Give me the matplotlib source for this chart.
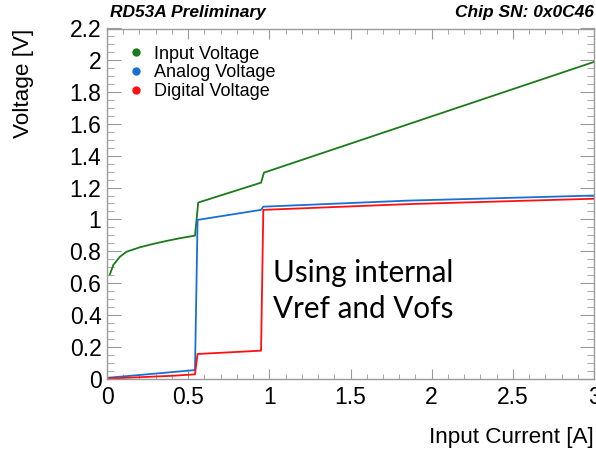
import matplotlib
matplotlib.use("Agg")
import matplotlib.pyplot as plt
from matplotlib.lines import Line2D
from matplotlib.ticker import MultipleLocator, FuncFormatter

# Supply voltages versus input current (shunt-LDO powering scan)
input_current = [0.018, 0.039, 0.080, 0.121, 0.203, 0.285, 0.368, 0.450,
                 0.542, 0.562, 0.949, 0.967, 3.0]
input_voltage = [0.655, 0.714, 0.766, 0.797, 0.825, 0.846, 0.865, 0.882,
                 0.898, 1.106, 1.231, 1.294, 1.99]

analog_current = [0.01, 0.2, 0.4, 0.542, 0.558, 0.949, 0.963, 1.85, 3.0]
analog_voltage = [0.005, 0.022, 0.040, 0.053, 0.997, 1.060, 1.080, 1.118, 1.150]

digital_current = [0.01, 0.2, 0.4, 0.542, 0.558, 0.949, 0.963, 1.85, 3.0]
digital_voltage = [0.0, 0.008, 0.017, 0.026, 0.154, 0.175, 1.060, 1.096, 1.130]

series_labels = ["Input Voltage", "Analog Voltage", "Digital Voltage"]
series_colors = ["#1b7a1b", "#1a6fd4", "#ff1010"]

plt.rcParams["font.family"] = ["Liberation Sans", "DejaVu Sans"]

fig = plt.figure(figsize=(5.96, 4.55), dpi=100)
ax = fig.add_axes([107 / 596, 1 - 378.5 / 455, 487 / 596, 350 / 455])

ax.plot(input_current, input_voltage, color=series_colors[0], lw=1.3)
ax.plot(analog_current, analog_voltage, color=series_colors[1], lw=1.3)
ax.plot(digital_current, digital_voltage, color=series_colors[2], lw=1.3)

ax.set_xlim(0, 3)
ax.set_ylim(0, 2.2)

fmt = FuncFormatter(lambda v, p: f"{v:g}")
ax.xaxis.set_major_locator(MultipleLocator(0.5))
ax.xaxis.set_minor_locator(MultipleLocator(0.1))
ax.yaxis.set_major_locator(MultipleLocator(0.2))
ax.yaxis.set_minor_locator(MultipleLocator(0.05))
ax.xaxis.set_major_formatter(fmt)
ax.yaxis.set_major_formatter(fmt)

frame_col = "#9a9a9a"
for s in ax.spines.values():
    s.set_color(frame_col)
    s.set_linewidth(1.0)

ax.tick_params(axis="both", which="both", direction="in", color=frame_col,
               top=True, right=True, labelsize=16.5, labelcolor="black")
ax.tick_params(axis="x", which="major", length=7, pad=5.5)
ax.tick_params(axis="x", which="minor", length=3.5)
ax.tick_params(axis="y", which="major", length=10, pad=4)
ax.tick_params(axis="y", which="minor", length=5)

ax.set_xlabel("Input Current [A]", fontsize=16.2, loc="right")
ax.set_ylabel("Voltage [V]", fontsize=16.2, loc="top")
ax.xaxis.set_label_coords(1.0, -0.138)
ax.yaxis.set_label_coords(-0.15, 1.0)

handles = [Line2D([], [], marker="o", linestyle="none", markersize=5,
                  color=c) for c in series_colors]
ax.legend(handles, series_labels, loc="upper left",
          bbox_to_anchor=(0.042, 0.951), frameon=False, fontsize=13,
          handlelength=1.0, handletextpad=0.45, labelspacing=0.1,
          borderpad=0, borderaxespad=0)

fig.text(110 / 596, 1 - 12 / 455, "RD53A Preliminary", fontsize=12.5,
         fontweight="bold", fontstyle="italic", ha="left", va="center")
fig.text(594 / 596, 1 - 12 / 455, "Chip SN: 0x0C46", fontsize=12.5,
         fontweight="bold", fontstyle="italic", ha="right", va="center")

ax.text(1.0226, 0.380, "Using internal\nVref and Vofs", fontsize=21.3,
        family=["Lato", "DejaVu Sans"], ha="left", va="baseline",
        linespacing=1.33, transform=ax.transData)

fig.savefig("out.png", dpi=100)
